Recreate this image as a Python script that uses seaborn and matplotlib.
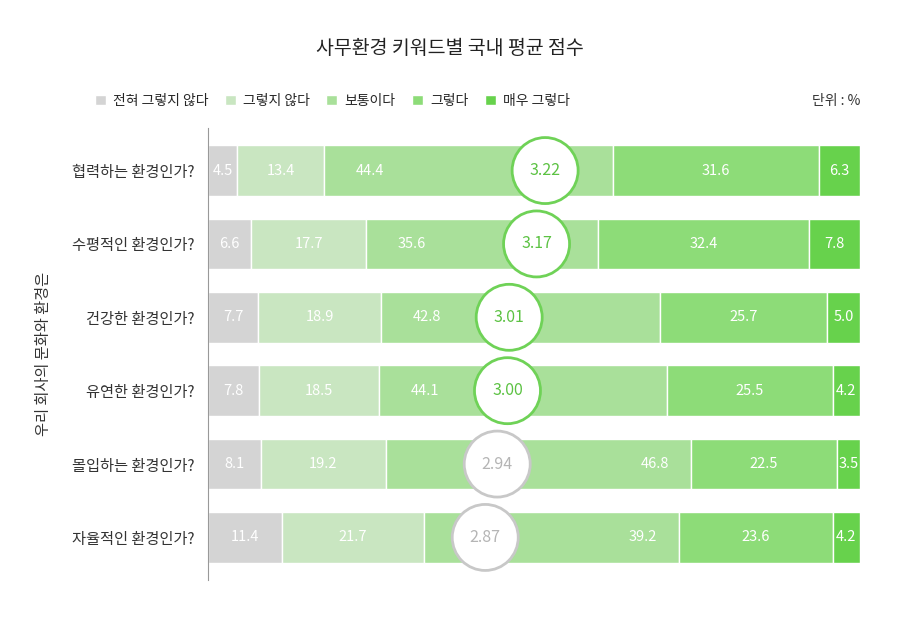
import numpy as np
import pandas as pd
import matplotlib.pyplot as plt
import seaborn as sns
from matplotlib.patches import Ellipse

sns.set_style('white')
plt.rcParams['font.family'] = ['Noto Sans CJK KR', 'DejaVu Sans']

questions = ['협력하는 환경인가?', '수평적인 환경인가?', '건강한 환경인가?',
             '유연한 환경인가?', '몰입하는 환경인가?', '자율적인 환경인가?']
cats = ['전혀 그렇지 않다', '그렇지 않다', '보통이다', '그렇다', '매우 그렇다']
colors = ['#d4d4d4', '#c9e6c1', '#a9e09a', '#8ddc78', '#67d24c']
values = np.array([
    [4.5, 13.4, 44.4, 31.6, 6.3],
    [6.6, 17.7, 35.6, 32.4, 7.8],
    [7.7, 18.9, 42.8, 25.7, 5.0],
    [7.8, 18.5, 44.1, 25.5, 4.2],
    [8.1, 19.2, 46.8, 22.5, 3.5],
    [11.4, 21.7, 39.2, 23.6, 4.2],
])
scores = [3.22, 3.17, 3.01, 3.00, 2.94, 2.87]

fig = plt.figure(figsize=(9, 6.21), dpi=100)
ax = fig.add_axes([208/900, 1-580/621, 652/900, 452/621])
y = np.arange(len(questions))
scaled = values / values.sum(axis=1, keepdims=True) * 100
left = np.zeros(len(questions))
for j, cat in enumerate(cats):
    ax.barh(y, scaled[:, j], left=left, height=0.69, color=colors[j], label=cat)
    for i in range(len(questions)):
        w = scaled[i, j]
        if j == 2:
            xt = left[i] + 7 if scores[i] >= 3 else left[i] + w - 5.5
        else:
            xt = left[i] + w / 2
        ax.text(xt, y[i], f'{values[i, j]:.1f}', ha='center', va='center',
                color='white', fontsize=10.5)
    left += scaled[:, j]
ax.set_xlim(0, 100)
ax.set_ylim(len(questions) - 0.5 + 0.08, -0.5 - 0.08)
ax.set_yticks(y)
ax.set_yticklabels(questions, fontsize=11, color='#333333')
ax.tick_params(axis='y', length=0, pad=10)
ax.set_xticks([])
for s in ['top', 'right', 'bottom']:
    ax.spines[s].set_visible(False)
ax.spines['left'].set_color('#999999')
ax.set_ylabel('우리 회사의 문화와 환경은', fontsize=11, color='#333333', labelpad=14)

# score circles on a secondary scale
ax2 = ax.twiny()
ax2.set_xlim(1.25, 5.06)
ax2.axis('off')
sx = 452 / 652 * (5.06 - 1.25) / 6.2 * 900 / 452 * 0  # placeholder not used
for i, s in enumerate(scores):
    good = s >= 3
    ec = '#6fd257' if good else '#c8c8c8'
    tc = '#5cc243' if good else '#b5b5b5'
    ax2.add_patch(Ellipse((s, y[i]), width=66 / 652 * 3.81, height=66 / 452 * 6.16,
                          facecolor='white', edgecolor=ec, lw=2, zorder=5))
    ax2.text(s, y[i], f'{s:.2f}', ha='center', va='center', color=tc,
             fontsize=11.5, zorder=6)
ax2.set_ylim(ax.get_ylim())

fig.text(0.5, 1-48/621, '사무환경 키워드별 국내 평균 점수', ha='center', va='center',
         fontsize=14, color='#222222')
handles, labels = ax.get_legend_handles_labels()
fig.legend(handles, labels, loc='center left', bbox_to_anchor=(82/900, 1-101/621),
           ncol=5, frameon=False, fontsize=10, handlelength=0.8, handleheight=0.8,
           columnspacing=1.2, handletextpad=0.5)
fig.text(860/900, 1-101/621, '단위 : %', ha='right', va='center', fontsize=10, color='#333333')

fig.savefig('out.png', dpi=100)
